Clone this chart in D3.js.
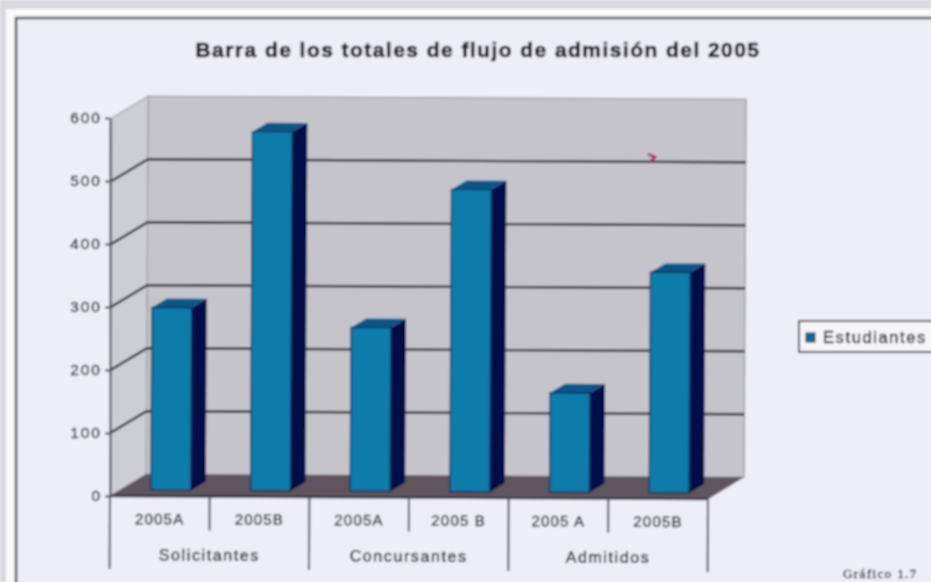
<!DOCTYPE html>
<html>
<head>
<meta charset="utf-8">
<script src="https://cdn.jsdelivr.net/npm/d3@7"></script>
<style>
  html, body { margin: 0; padding: 0; background: #eeeef6; overflow: hidden; }
  text { font-family: "Liberation Sans", Arial, sans-serif; fill: #14141a; stroke: #14141a; stroke-width: 0.35px; }
</style>
</head>
<body>
<div id="chart"></div>
<script>
// Datos
const categories = ["2005A", "2005B", "2005A ", "2005 B", "2005 A", "2005B "];
const values = [290, 570, 260, 480, 158, 350];
const groups = ["Solicitantes", "Concursantes", "Admitidos"];
const yTicks = [0, 100, 200, 300, 400, 500, 600];
const seriesName = "Estudiantes";

const width = 931, height = 582;
const wallDepth = { x: 36, y: -22 }; // fondo de la caja 3D
const barInset = { x: 11, y: -6 };   // separación de la barra respecto al frente
const barDepth = { x: 15, y: -9 };

const svg = d3.select("#chart").append("svg")
    .attr("width", width)
    .attr("height", height);

// Desenfoque suave, la referencia es una foto escaneada
const defs = svg.append("defs");
defs.append("filter").attr("id", "scan")
    .attr("x", 0).attr("y", 0).attr("width", 1).attr("height", 1)
    .append("feGaussianBlur").attr("stdDeviation", 0.85);

const root = svg.append("g").attr("filter", "url(#scan)");

// Fondo y marco de la página
root.append("rect").attr("width", width).attr("height", height).attr("fill", "#d9d9df");
root.append("rect").attr("x", 6).attr("y", 9).attr("width", width).attr("height", height).attr("fill", "#fafafd");
root.append("rect").attr("x", 16).attr("y", 18).attr("width", width).attr("height", height)
    .attr("fill", "#eeeef6").attr("stroke", "#3f4346").attr("stroke-width", 2.4);

root.append("text")
    .attr("x", 478).attr("y", 57)
    .attr("text-anchor", "middle")
    .attr("font-size", 21)
    .attr("font-weight", "bold")
    .attr("letter-spacing", 1.45)
    .style("stroke-width", "0.6px")
    .text("Barra de los totales de flujo de admisión del 2005");

// Escalas
const x = d3.scaleBand()
    .domain(categories)
    .range([110, 708])
    .paddingInner(0.6)
    .paddingOuter(0.3);

const y = d3.scaleLinear()
    .domain([0, 600])
    .range([496, 118]);

const plot = root.append("g").attr("transform", "rotate(0.3 110 496)");

const x0 = x.range()[0], x1 = x.range()[1];
const poly = pts => pts.map(p => p.join(",")).join(" ");

// Pared de fondo, pared lateral y suelo
plot.append("polygon")
    .attr("points", poly([
        [x0 + wallDepth.x, y(600) + wallDepth.y], [x1 + wallDepth.x, y(600) + wallDepth.y],
        [x1 + wallDepth.x, y(0) + wallDepth.y], [x0 + wallDepth.x, y(0) + wallDepth.y]]))
    .attr("fill", "#c5c4cb")
    .attr("stroke", "#85858d");

plot.append("polygon")
    .attr("points", poly([
        [x0, y(600)], [x0 + wallDepth.x, y(600) + wallDepth.y],
        [x0 + wallDepth.x, y(0) + wallDepth.y], [x0, y(0)]]))
    .attr("fill", "#cdcdd4")
    .attr("stroke", "#9a9aa2");

plot.append("polygon")
    .attr("points", poly([
        [x0, y(0)], [x0 + wallDepth.x, y(0) + wallDepth.y],
        [x1 + wallDepth.x, y(0) + wallDepth.y], [x1, y(0)]]))
    .attr("fill", "#5f555e");

// Líneas de cuadrícula
const gridTicks = yTicks.filter(d => d > 0 && d < 600);
plot.selectAll(".grid-side")
    .data(gridTicks)
    .join("line")
    .attr("class", "grid-side")
    .attr("x1", x0).attr("y1", d => y(d))
    .attr("x2", x0 + wallDepth.x).attr("y2", d => y(d) + wallDepth.y)
    .attr("stroke", "#25252e").attr("stroke-width", 2.4);

plot.selectAll(".grid-back")
    .data(gridTicks)
    .join("line")
    .attr("class", "grid-back")
    .attr("x1", x0 + wallDepth.x).attr("y1", d => y(d) + wallDepth.y)
    .attr("x2", x1 + wallDepth.x).attr("y2", d => y(d) + wallDepth.y)
    .attr("stroke", "#25252e").attr("stroke-width", 2.4);

// Barras 3D
const bars = plot.selectAll(".bar")
    .data(categories.map((c, i) => ({ category: c, value: values[i] })))
    .join("g")
    .attr("class", "bar")
    .attr("transform", `translate(${barInset.x}, ${barInset.y})`);

bars.append("polygon") // lateral
    .attr("points", d => {
        const r = x(d.category) + x.bandwidth();
        return poly([[r, y(d.value)], [r + barDepth.x, y(d.value) + barDepth.y],
            [r + barDepth.x, y(0) + barDepth.y], [r, y(0)]]);
    })
    .attr("fill", "#030d48");

bars.append("polygon") // tapa
    .attr("points", d => {
        const l = x(d.category), r = l + x.bandwidth(), t = y(d.value);
        return poly([[l, t], [l + barDepth.x, t + barDepth.y],
            [r + barDepth.x, t + barDepth.y], [r, t]]);
    })
    .attr("fill", "#0b5486");

bars.append("rect") // frente
    .attr("x", d => x(d.category))
    .attr("y", d => y(d.value))
    .attr("width", x.bandwidth())
    .attr("height", d => y(0) - y(d.value))
    .attr("fill", "#0b7cab")
    .attr("stroke", "#07305c")
    .attr("stroke-width", 1.4);

// Eje Y
const yAxis = root.append("g")
    .attr("transform", `translate(${x0}, 0)`)
    .call(d3.axisLeft(y).tickValues(yTicks).tickSize(5).tickSizeOuter(0).tickPadding(3));
yAxis.selectAll("text")
    .attr("font-size", 15.5)
    .attr("letter-spacing", 2)
    .attr("font-family", "Liberation Sans")
    .attr("fill", "#14141a");
yAxis.selectAll("line").attr("stroke", "#4a4a53").attr("stroke-width", 2);
yAxis.select(".domain").attr("stroke", "#4a4a53").attr("stroke-width", 2);

// Eje X de dos niveles, usa la misma rotación que el gráfico
const axisX = plot.append("g");
const step = x.step();
axisX.append("line")
    .attr("x1", x0).attr("x2", x1).attr("y1", y(0)).attr("y2", y(0))
    .attr("stroke", "#33333b").attr("stroke-width", 2.4);

axisX.selectAll(".sep")
    .data(d3.range(categories.length + 1))
    .join("line")
    .attr("class", "sep")
    .attr("x1", i => x0 + i * step)
    .attr("x2", i => x0 + i * step)
    .attr("y1", y(0))
    .attr("y2", i => y(0) + (i % 2 === 0 ? 73 : 34))
    .attr("stroke", "#4a4a53")
    .attr("stroke-width", 2);

axisX.selectAll(".cat")
    .data(categories)
    .join("text")
    .attr("class", "cat")
    .attr("x", d => x(d) + x.bandwidth() / 2)
    .attr("y", y(0) + 28)
    .attr("text-anchor", "middle")
    .attr("font-size", 15)
    .attr("letter-spacing", 1.2)
    .text(d => d.trim());

axisX.selectAll(".group")
    .data(groups)
    .join("text")
    .attr("class", "group")
    .attr("x", (d, i) => x0 + (2 * i + 1) * step)
    .attr("y", y(0) + 64)
    .attr("text-anchor", "middle")
    .attr("font-size", 16)
    .attr("letter-spacing", 1.6)
    .text(d => d);

// Marca roja del escaneo
root.append("path")
    .attr("d", "M648,154 L655,157 L651,161")
    .attr("fill", "none")
    .attr("stroke", "#b0164f")
    .attr("stroke-width", 2.6);

// Leyenda
const legend = root.append("g");
legend.append("rect")
    .attr("x", 799).attr("y", 321).attr("width", 160).attr("height", 31)
    .attr("fill", "#f6f6fa").attr("stroke", "#3c3c44").attr("stroke-width", 2);
legend.append("rect")
    .attr("x", 806).attr("y", 333).attr("width", 9).attr("height", 9)
    .attr("fill", "#0b6a95").attr("stroke", "#1c2430");
legend.append("text")
    .attr("x", 823).attr("y", 343)
    .attr("font-size", 16.5)
    .attr("letter-spacing", 1.6)
    .text(seriesName);

// Pie
root.append("text")
    .attr("x", 843).attr("y", 578)
    .attr("font-size", 13)
    .attr("letter-spacing", 1.4)
    .style("font-family", "Liberation Serif")
    .text("Gráfico 1.7");
</script>
</body>
</html>
